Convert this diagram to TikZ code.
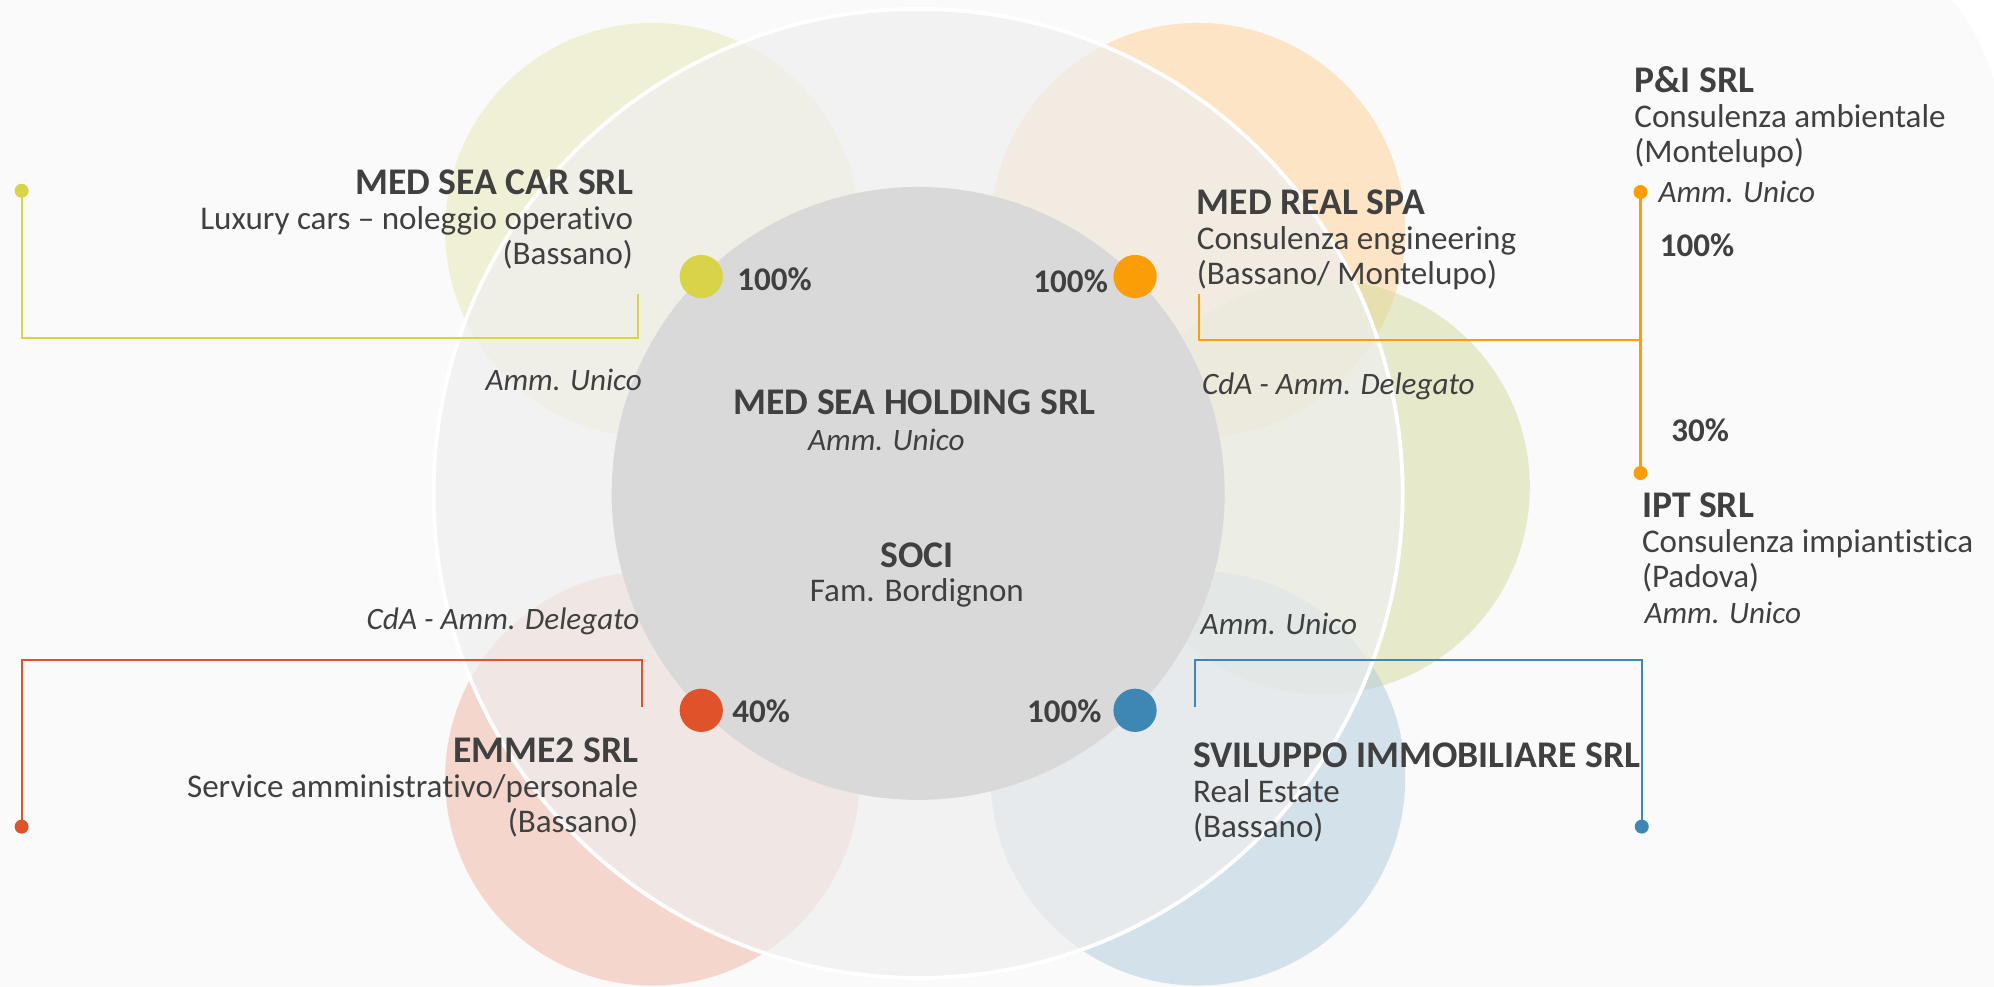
\documentclass[tikz,border=0pt]{standalone}
\usepackage{fontspec}
\setmainfont{Carlito}[Ligatures=NoCommon]
\usepackage{tikz}
\usetikzlibrary{positioning,calc}

\definecolor{ink}{HTML}{404040}
\definecolor{paper}{HTML}{FAFAFA}
\definecolor{ringgray}{HTML}{EFEFEF}
\definecolor{hubgray}{HTML}{D9D9D9}
\definecolor{cyel}{HTML}{D8D44A}
\definecolor{cora}{HTML}{FA9D07}
\definecolor{cred}{HTML}{E0522A}
\definecolor{cblu}{HTML}{3D87B4}
\definecolor{pyel}{HTML}{E6E8B2}
\definecolor{pora}{HTML}{FFD090}
\definecolor{pgrn}{HTML}{D4DC9E}
\definecolor{ppnk}{HTML}{F0B4A2}
\definecolor{pblu}{HTML}{AECADC}

\newcommand{\firm}[1]{{\fontsize{29.6}{27.5}\selectfont\bfseries #1}}

\begin{document}
\begin{tikzpicture}[x=1pt, y=-1pt,
		petal/.style={circle, minimum size=326pt, inner sep=0pt, fill opacity=0.5},
		bigdot/.style={circle, minimum size=34pt, inner sep=0pt},
		pin/.style={circle, minimum size=11pt, inner sep=0pt},
		wire/.style={line width=1.6pt},
		txt/.style={text=ink, inner sep=0pt, font=\fontsize{26}{27.5}\selectfont},
		role/.style={txt, font=\fontsize{24.5}{27.5}\selectfont\itshape},
		pct/.style={txt, font=\fontsize{26}{27}\selectfont\bfseries}]

		% Background
		\fill[paper] (0,0) rectangle (1568,776);
		\useasboundingbox (0,0) rectangle (1568,776);
		\fill[white] (1535,0) .. controls (1550,18) and (1560,38) .. (1568,62) -- (1568,0) -- cycle;

		% Draw the petals
		\node[petal, fill=pyel] (petcar)  at (513,181) {};
		\node[petal, fill=pora] (petreal) at (942,181) {};
		\node[petal, fill=pgrn] (petipt)  at (1040,383) {};
		\node[petal, fill=ppnk] (petemme) at (513,612) {};
		\node[petal, fill=pblu] (petsvil) at (942,612) {};

		% Draw the rings
		\node[circle, minimum size=762pt, inner sep=0pt, fill=ringgray, fill opacity=0.7,
			draw=white, line width=3pt] (ring) at (722,388) {};
		\node[circle, minimum size=482pt, inner sep=0pt, fill=hubgray] (hub) at (722,388) {};

		% Shares on the hub
		\node[bigdot, fill=cyel] (ydot) at (hub.135) {};
		\node[bigdot, fill=cora] (odot) at (hub.45) {};
		\node[bigdot, fill=cred] (rdot) at (hub.225) {};
		\node[bigdot, fill=cblu] (bdot) at (hub.315) {};
		\node[pct, right=11pt of ydot, yshift=-2pt] (ypct) {100\%};
		\node[pct, left=4pt of odot, yshift=-4pt] (opct) {100\%};
		\node[pct, right=7pt of rdot, yshift=-1pt] (rpct) {40\%};
		\node[pct, left=9pt of bdot, yshift=-1pt] (bpct) {100\%};

		% Company blocks
		\node[txt, align=right, anchor=north east] (car) at (498,133)
			{\firm{MED SEA CAR SRL}\\Luxury cars – noleggio operativo\\(Bassano)};
		\node[txt, align=left, anchor=north west] (real) at (941,149)
			{\firm{MED REAL SPA}\\Consulenza engineering\\(Bassano/ Montelupo)};
		\node[txt, align=left, anchor=north west] (pi) at (1285,52)
			{\firm{P\&I SRL}\\Consulenza ambientale\\(Montelupo)};
		\node[txt, align=left, anchor=north west] (ipt) at (1291,387)
			{\firm{IPT SRL}\\Consulenza impiantistica\\(Padova)};
		\node[txt, align=right, anchor=north east] (emme) at (502,580)
			{\firm{EMME2 SRL}\\Service amministrativo/personale\\(Bassano)};
		\node[txt, align=left, anchor=north west] (svil) at (938,584)
			{\firm{SVILUPPO IMMOBILIARE SRL}\\Real Estate\\(Bassano)};
		\node[txt, anchor=base] (holding) at (719,326) {\firm{MED SEA HOLDING SRL}};
		\node[role, anchor=base] (holdrole) at (697,354) {Amm. Unico};
		\node[txt, anchor=base] (soci) at (721,446) {\firm{SOCI}};
		\node[txt, anchor=base] (fam) at (721,473) {Fam. Bordignon};

		% Roles
		\node[role, anchor=base east] (carrole) at (505,307) {Amm. Unico};
		\node[role, anchor=base west] (realrole) at (945,310) {CdA - Amm. Delegato};
		\node[role, anchor=base west] (pirole) at (1304,159) {Amm. Unico};
		\node[role, anchor=base west] (iptrole) at (1293,490) {Amm. Unico};
		\node[role, anchor=base east] (emmerole) at (503,495) {CdA - Amm. Delegato};
		\node[role, anchor=base west] (svilrole) at (944,499) {Amm. Unico};
		\node[pct, anchor=base west] (pipct) at (1305,202) {100\%};
		\node[pct, anchor=base west] (iptpct) at (1314,347) {30\%};

		% Connect the blocks
		\coordinate (carhook)  at (502,231);
		\coordinate (realhook) at (943,231);
		\coordinate (emmehook) at (505,556);
		\coordinate (svilhook) at (940,556);
		\coordinate (orjoin)   at (1290,267);
		\node[pin, fill=cyel] (carpin)  at (17,150) {};
		\node[pin, fill=cora] (pipin)   at (1290,151) {};
		\node[pin, fill=cora] (iptpin)  at (1290,372) {};
		\node[pin, fill=cred] (emmepin) at (17,650) {};
		\node[pin, fill=cblu] (svilpin) at (1291,650) {};
		\draw[wire, cyel] (carpin.center) -- ++(0,116) -| (carhook);
		\draw[wire, cora] (realhook) |- (orjoin);
		\draw[wire, cora] (pipin.center) -- (iptpin.center);
		\draw[wire, cred] (emmehook) -- ++(0,-37) -| (emmepin.center);
		\draw[wire, cblu] (svilhook) -- ++(0,-37) -| (svilpin.center);
\end{tikzpicture}
\end{document}
